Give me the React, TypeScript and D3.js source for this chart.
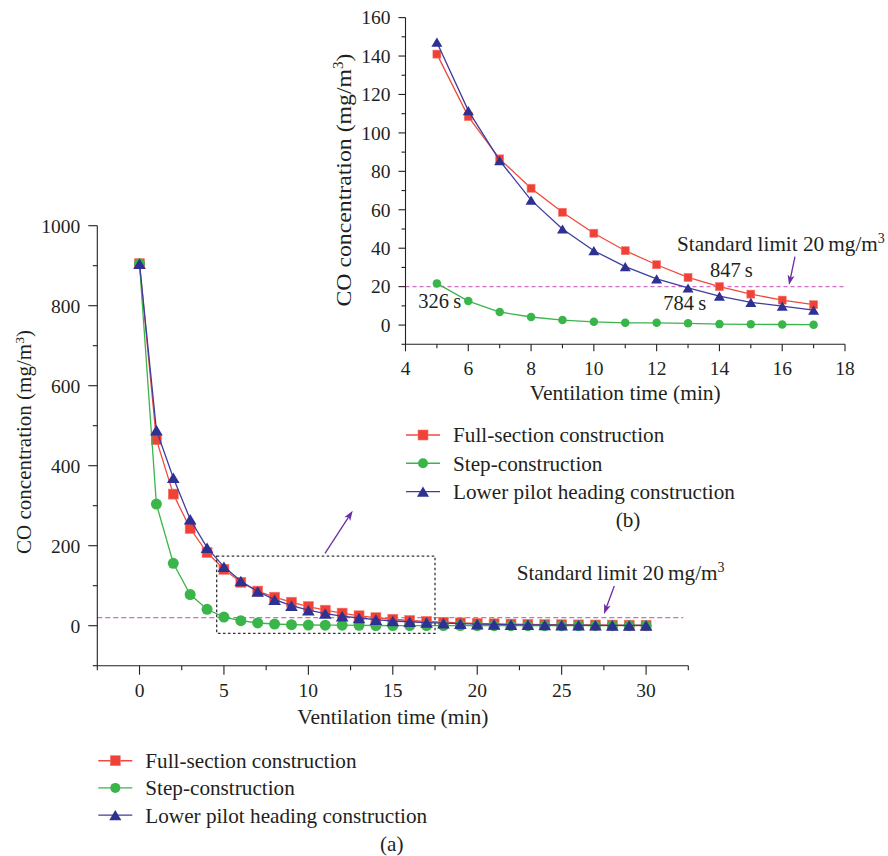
import React from "react";
import * as d3 from "d3";

const timeMin = [0, 1, 2, 3, 4, 5, 6, 7, 8, 9, 10, 11, 12, 13, 14, 15, 16, 17, 18, 19, 20, 21, 22, 23, 24, 25, 26, 27, 28, 29, 30];
const fullSection = [905, 465, 329, 243, 183, 141, 108.5, 86.5, 71.2, 58.7, 47.8, 38.7, 31.4, 24.8, 20, 16.1, 13, 10.6, 8.6, 7, 5.8, 4.8, 4, 3.3, 2.8, 2.4, 2, 1.7, 1.5, 1.3, 1.1];
const stepConstruction = [905, 304, 156, 78, 41, 21.7, 12.5, 6.8, 4.2, 2.6, 1.7, 1.2, 1.2, 0.9, 0.5, 0.4, 0.3, 0.2, 0.2, 0.2, 0.1, 0.1, 0.1, 0.1, 0.1, 0.1, 0.1, 0.1, 0.1, 0.1, 0.1];
const lowerPilot = [905, 489, 370, 266, 195, 147.2, 111.6, 85.6, 65, 50, 38.7, 30.4, 24, 19.3, 15.1, 11.8, 9.9, 7.8, 6.3, 5, 4, 3.3, 2.7, 2.2, 1.8, 1.5, 1.2, 1, 0.8, 0.7, 0.6];

const seriesNames = ["Full-section construction", "Step-construction", "Lower pilot heading construction"];
const seriesColors = ["#ef4136", "#39b54a", "#2e3192"];
const lineColors = ["#f04a3c", "#3cb44c", "#3f3d9c"];
const seriesShapes = ["square", "circle", "triangle"];

const mainXTicks = [0, 5, 10, 15, 20, 25, 30];
const mainXMinor = [-2.5, 2.5, 7.5, 12.5, 17.5, 22.5, 27.5, 32.5];
const mainYTicks = [0, 200, 400, 600, 800, 1000];
const mainYMinor = [-100, 100, 300, 500, 700, 900];

const insetXTicks = [4, 6, 8, 10, 12, 14, 16, 18];
const insetXMinor = [5, 7, 9, 11, 13, 15, 17];
const insetYTicks = [0, 20, 40, 60, 80, 100, 120, 140, 160];
const insetYMinor = [-10, 10, 30, 50, 70, 90, 110, 130, 150];
const insetStart = 5;
const insetEnd = 17;

const standardLimit = 20;
const zoomBox = { x0: 4.57, x1: 17.5, y0: -19, y1: 174 };

const FONT = '"Liberation Serif", "DejaVu Serif", "Times New Roman", serif';
const TEXT = "#231f20";
const LIMIT_COLOR = "#d36ac4";
const ARROW_COLOR = "#6a2fa0";
const TICK_FS = 19.5;
const LABEL_FS = 21.2;

function Marker({ shape, x, y, size, color }: { shape: string; x: number; y: number; size: number; color: string }) {
  if (shape === "square") {
    return <rect x={x - size / 2} y={y - size / 2} width={size} height={size} fill={color} stroke="#f47a6e" strokeWidth={0.6} />;
  }
  if (shape === "circle") {
    return <circle cx={x} cy={y} r={size / 2} fill={color} />;
  }
  const w = size * 1.1;
  const h = size * 0.92;
  return <path d={`M${x},${y - h / 2}L${x + w / 2},${y + h / 2}L${x - w / 2},${y + h / 2}Z`} fill={color} />;
}

function Axes({ x, y, xTicks, xMinor, yTicks, yMinor, major, minor }: any) {
  const [x0, x1] = x.range();
  const [y0, y1] = y.range();
  return (
    <g stroke={TEXT} strokeWidth={1.1} fill="none">
      <line x1={x0} x2={x1} y1={y0} y2={y0} />
      <line x1={x0} x2={x0} y1={y0} y2={y1} />
      {xTicks.map((t: number) => (
        <g key={"xt" + t}>
          <line x1={x(t)} x2={x(t)} y1={y0} y2={y0 + major} />
          <text x={x(t)} y={y0 + 31} textAnchor="middle" fill={TEXT} stroke="none" fontSize={TICK_FS} fontFamily={FONT}>{t}</text>
        </g>
      ))}
      {xMinor.map((t: number) => (
        <line key={"xm" + t} x1={x(t)} x2={x(t)} y1={y0} y2={y0 + minor} />
      ))}
      {yTicks.map((t: number) => (
        <g key={"yt" + t}>
          <line x1={x0} x2={x0 - major} y1={y(t)} y2={y(t)} />
          <text x={x0 - major - 8} y={y(t)} dy="0.35em" textAnchor="end" fill={TEXT} stroke="none" fontSize={TICK_FS} fontFamily={FONT}>{t}</text>
        </g>
      ))}
      {yMinor.map((t: number) => (
        <line key={"ym" + t} x1={x0} x2={x0 - minor} y1={y(t)} y2={y(t)} />
      ))}
    </g>
  );
}

function Legend({ x, y, rowGap, label, labelX, labelY }: any) {
  return (
    <g>
      {seriesNames.map((name, i) => (
        <g key={name}>
          <line x1={x} x2={x + 34} y1={y + i * rowGap} y2={y + i * rowGap} stroke={lineColors[i]} strokeWidth={1.4} />
          <Marker shape={seriesShapes[i]} x={x + 17} y={y + i * rowGap} size={i === 2 ? 11 : 10} color={seriesColors[i]} />
          <text x={x + 47} y={y + i * rowGap} dy="0.35em" fontSize={LABEL_FS} fontFamily={FONT} fill={TEXT}>{name}</text>
        </g>
      ))}
      <text x={labelX} y={labelY} textAnchor="middle" fontSize={LABEL_FS} fontFamily={FONT} fill={TEXT}>{label}</text>
    </g>
  );
}

function arrowHead(x1: number, y1: number, x2: number, y2: number, len: number, wid: number) {
  const a = Math.atan2(y2 - y1, x2 - x1);
  const bx = x2 - len * Math.cos(a);
  const by = y2 - len * Math.sin(a);
  const px = Math.cos(a + Math.PI / 2) * wid / 2;
  const py = Math.sin(a + Math.PI / 2) * wid / 2;
  return `M${x2},${y2}L${bx + px},${by + py}L${bx + len * 0.25 * Math.cos(a)},${by + len * 0.25 * Math.sin(a)}L${bx - px},${by - py}Z`;
}

function Arrow({ x1, y1, x2, y2 }: any) {
  return (
    <g>
      <line x1={x1} y1={y1} x2={x2 - (x2 - x1) * 0.15} y2={y2 - (y2 - y1) * 0.15} stroke={ARROW_COLOR} strokeWidth={1.3} />
      <path d={arrowHead(x1, y1, x2, y2, 10, 7)} fill={ARROW_COLOR} />
    </g>
  );
}

function Limit({ x, baseline }: any) {
  return (
    <text x={x} y={baseline} fontSize={LABEL_FS} fontFamily={FONT} fill={TEXT}>
      {"Standard limit " + standardLimit + "\u2009mg/m"}
      <tspan dy={-8} fontSize={14}>3</tspan>
    </text>
  );
}

export default function App() {
  const allSeries = [fullSection, stepConstruction, lowerPilot];

  // main chart
  const mx = d3.scaleLinear().domain([-2.5, 32.5]).range([97.3, 688.3]);
  const my = d3.scaleLinear().domain([-100, 1000]).range([665.7, 225.7]);
  const mainLine = d3.line<number>().x((_, i) => mx(timeMin[i])).y((v) => my(v));

  // inset chart
  const ix = d3.scaleLinear().domain([4, 18]).range([405.5, 845]);
  const iy = d3.scaleLinear().domain([-10, 160]).range([344.3, 17.6]);
  const iIdx = timeMin.map((t, i) => i).filter((i) => timeMin[i] >= insetStart && timeMin[i] <= insetEnd);

  return (
    <svg width={888} height={856} style={{ position: "absolute", left: 0, top: 0, background: "#fff" }}>
      <rect width={888} height={856} fill="#fff" />
      {/* ===== main chart (a) ===== */}
      <line x1={mx.range()[0]} x2={mx(32.2)} y1={my(standardLimit)} y2={my(standardLimit)} stroke={LIMIT_COLOR} strokeWidth={1.3} strokeDasharray="5,3" />
      {allSeries.map((s, si) => (
        <g key={"m" + si}>
          <path d={mainLine(s) || ""} fill="none" stroke={lineColors[si]} strokeWidth={1.3} />
          {s.map((v, i) => (
            <Marker key={i} shape={seriesShapes[si]} x={mx(timeMin[i])} y={my(v)} size={si === 0 ? 10 : si === 1 ? 11 : 11.5} color={seriesColors[si]} />
          ))}
        </g>
      ))}
      <rect x={mx(zoomBox.x0)} y={my(zoomBox.y1)} width={mx(zoomBox.x1) - mx(zoomBox.x0)} height={my(zoomBox.y0) - my(zoomBox.y1)} fill="none" stroke="#333" strokeWidth={1.3} strokeDasharray="2.6,2.4" />
      <Axes x={mx} y={my} xTicks={mainXTicks} xMinor={mainXMinor} yTicks={mainYTicks} yMinor={mainYMinor} major={9} minor={4.5} />
      <text x={(mx.range()[0] + mx.range()[1]) / 2} y={724} textAnchor="middle" fontSize={LABEL_FS} fontFamily={FONT} fill={TEXT} textLength={191} lengthAdjust="spacingAndGlyphs">Ventilation time (min)</text>
      <text transform={`translate(31,${442}) rotate(-90)`} textAnchor="middle" fontSize={20} fontFamily={FONT} fill={TEXT} textLength={224} lengthAdjust="spacingAndGlyphs">
        CO concentration (mg/m<tspan dy={-7} fontSize={13}>3</tspan><tspan dy={7}>)</tspan>
      </text>
      <Arrow x1={325} y1={553.3} x2={352.7} y2={510.7} />
      <Limit baseline={580} x={516.7} />
      <Arrow x1={614.3} y1={586} x2={604} y2={614} />
      <Legend x={98.3} y={760.7} rowGap={27.2} label="(a)" labelX={391.7} labelY={851} />

      {/* ===== inset chart (b) ===== */}
      <line x1={ix.range()[0]} x2={ix(18)} y1={iy(standardLimit)} y2={iy(standardLimit)} stroke={LIMIT_COLOR} strokeWidth={1.3} strokeDasharray="4,3" />
      {allSeries.map((s, si) => {
        const pts = iIdx.map((i) => [ix(timeMin[i]), iy(s[i])] as [number, number]);
        return (
          <g key={"i" + si}>
            <path d={d3.line()(pts) || ""} fill="none" stroke={lineColors[si]} strokeWidth={1.3} />
            {pts.map((p, k) => (
              <Marker key={k} shape={seriesShapes[si]} x={p[0]} y={p[1]} size={si === 0 ? 8 : si === 1 ? 8.5 : 10} color={seriesColors[si]} />
            ))}
          </g>
        );
      })}
      <Axes x={ix} y={iy} xTicks={insetXTicks} xMinor={insetXMinor} yTicks={insetYTicks} yMinor={insetYMinor} major={7} minor={4} />
      <text x={(ix.range()[0] + ix.range()[1]) / 2} y={400} textAnchor="middle" fontSize={LABEL_FS} fontFamily={FONT} fill={TEXT} textLength={191} lengthAdjust="spacingAndGlyphs">Ventilation time (min)</text>
      <text transform={`translate(351,${180}) rotate(-90)`} textAnchor="middle" fontSize={22} fontFamily={FONT} fill={TEXT} textLength={253} lengthAdjust="spacingAndGlyphs">
        CO concentration (mg/m<tspan dy={-8} fontSize={14}>3</tspan><tspan dy={8}>)</tspan>
      </text>
      <Limit baseline={250.7} x={677} />
      <Arrow x1={795} y1={256.7} x2={789} y2={285} />
      <text x={710} y={277.3} fontSize={20.5} fontFamily={FONT} fill={TEXT}>{"847\u2009s"}</text>
      <text x={663.3} y={310} fontSize={20.5} fontFamily={FONT} fill={TEXT}>{"784\u2009s"}</text>
      <text x={418.3} y={308.3} fontSize={20.5} fontFamily={FONT} fill={TEXT}>{"326\u2009s"}</text>
      <Legend x={406} y={435} rowGap={28.3} label="(b)" labelX={628} labelY={527} />
    </svg>
  );
}
